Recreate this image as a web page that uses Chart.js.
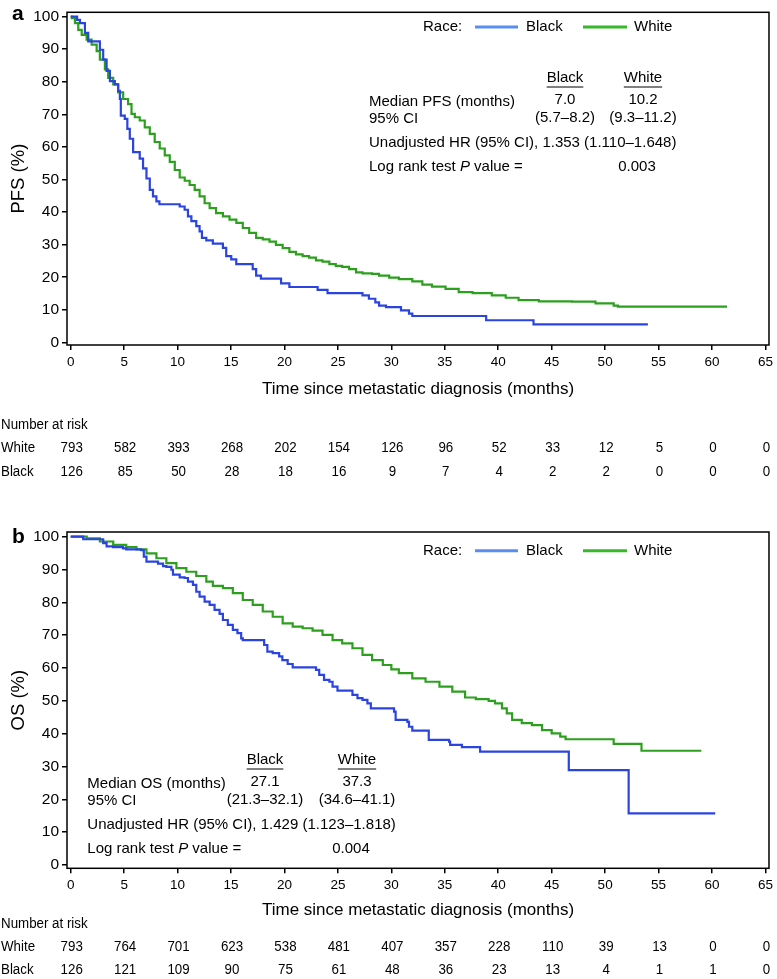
<!DOCTYPE html>
<html>
<head>
<meta charset="utf-8">
<script src="https://cdn.jsdelivr.net/npm/chart.js@4.4.1/dist/chart.umd.min.js"></script>
<style>
html, body { margin: 0; padding: 0; background: #fff; }
#wrap { position: relative; width: 777px; height: 979px; }
canvas { position: absolute; left: 0; }
</style>
</head>
<body>
<div id="wrap">
  <canvas id="pfs" width="777" height="490" style="top:0;"></canvas>
  <canvas id="os" width="777" height="489" style="top:490px;"></canvas>
</div>
<script>
"use strict";

// axis ticks
var X_TICKS = [0, 5, 10, 15, 20, 25, 30, 35, 40, 45, 50, 55, 60, 65];
var Y_TICKS = [0, 10, 20, 30, 40, 50, 60, 70, 80, 90, 100];

// panel a: PFS (months, % surviving)
var PFS_BLACK_T = [0, 0.6, 0.87, 1.33, 1.64, 2.73, 3.04, 3.36, 3.67, 4.13, 4.44, 4.6, 4.69, 5.06, 5.3, 5.53, 5.84, 6.46, 6.77, 7.09, 7.4, 7.7, 8.02, 8.3, 10.2, 10.66, 10.97, 11.29, 11.75, 12.06, 12.28, 12.69, 13.3, 14.24, 14.55, 15.02, 15.49, 17.03, 17.35, 17.8, 19.68, 20.46, 23.1, 24.03, 27.3, 27.9, 28.5, 28.85, 29.5, 30.9, 31.65, 31.96, 38.87, 43.3, 54.0];
var PFS_BLACK_S = [100, 99, 98, 95, 92.4, 89.8, 86.8, 83.3, 80.2, 79.2, 77.2, 74.7, 69.6, 68.6, 65.5, 62.5, 58.4, 56.4, 53.4, 50.3, 46.8, 44.8, 43.3, 42.4, 41.7, 40.7, 38.7, 37.2, 35.7, 34.1, 32.1, 31.3, 30.3, 29, 26.5, 25.5, 24, 22.5, 20.5, 19.6, 18.1, 17, 16.1, 15.1, 14.4, 13.4, 12.3, 11.3, 10.8, 9.8, 8.8, 8.1, 6.8, 5.5, 5.5];
var PFS_WHITE_T = [0, 0.1, 0.4, 0.71, 1.03, 1.49, 1.96, 2.43, 2.73, 3.2, 3.51, 3.98, 4.44, 4.91, 5.37, 5.69, 6.0, 6.46, 6.93, 7.4, 7.86, 8.33, 8.8, 9.27, 9.74, 10.2, 10.67, 11.13, 11.6, 12.06, 12.53, 13.0, 13.6, 14.24, 14.86, 15.5, 16.1, 16.7, 17.35, 17.97, 18.6, 19.2, 19.83, 20.46, 21.08, 21.7, 22.3, 22.95, 23.56, 24.2, 24.8, 25.4, 26.05, 26.7, 27.3, 28.2, 28.85, 29.8, 30.7, 31.96, 32.9, 33.8, 35.07, 36.3, 37.6, 39.4, 40.7, 41.9, 43.8, 46.9, 49.1, 50.8, 51.2, 61.4];
var PFS_WHITE_S = [100, 99.5, 98, 95.9, 94.4, 92.9, 91.4, 89.4, 86.8, 83.8, 81.2, 79.2, 76.7, 74.7, 73.1, 70.1, 69.1, 68.1, 66, 64, 61.5, 59.5, 57.4, 55.4, 52.9, 50.6, 49.6, 48.3, 46.8, 44.8, 42.7, 41.2, 39.7, 38.7, 37.7, 36.7, 35.1, 33.6, 32.1, 31.6, 30.9, 29.9, 28.9, 27.8, 27, 26.5, 26, 25.2, 24.8, 24, 23.5, 23.2, 22.5, 21.5, 21.2, 21, 20.5, 19.9, 19.4, 18.7, 17.7, 17.1, 16.4, 15.4, 15.1, 14.4, 13.7, 13, 12.6, 12.5, 12, 11.3, 11, 11];

// panel b: OS
var OS_BLACK_T = [0, 1.17, 3.04, 3.36, 3.97, 4.9, 5.2, 6.6, 6.84, 7.09, 8.17, 8.64, 8.95, 9.42, 9.57, 10.2, 10.66, 10.97, 11.44, 11.75, 12.06, 12.53, 13.0, 13.46, 13.93, 14.24, 14.7, 15.17, 15.6, 15.95, 16.1, 18.1, 18.4, 18.9, 19.5, 19.8, 20.3, 20.77, 22.95, 23.25, 23.7, 24.2, 24.5, 24.96, 26.36, 26.83, 27.3, 27.76, 28.08, 30.25, 30.4, 31.5, 31.65, 31.96, 33.5, 35.4, 35.5, 36.6, 38.3, 46.6, 52.2, 60.3];
var OS_BLACK_S = [100, 99.2, 98, 97, 96.8, 96.4, 96.1, 95.9, 93.9, 92.4, 91.8, 91, 90.8, 89.9, 88.4, 87.6, 87.4, 86.3, 85.3, 83.2, 81.7, 80.2, 79.2, 77.7, 76.5, 74.6, 73.1, 71.6, 70.6, 69, 68.5, 67, 65, 64.5, 63.5, 62.4, 61.2, 60.2, 59.4, 57.9, 56.4, 55.8, 54.3, 53.1, 51.8, 50.8, 50.3, 49.2, 47.7, 46.7, 44.2, 43.6, 42.1, 40.9, 38.1, 37.6, 36.6, 35.9, 34.5, 28.9, 15.7, 15.7];
var OS_WHITE_T = [0, 1.5, 2.73, 3.98, 5.2, 6.16, 7.09, 8.02, 8.95, 9.89, 10.82, 11.75, 12.69, 13.3, 14.24, 15.17, 16.1, 17.03, 17.97, 18.9, 19.83, 20.77, 21.7, 22.63, 23.56, 24.5, 25.4, 26.36, 27.3, 28.2, 29.2, 30.0, 30.7, 31.96, 33.2, 34.5, 35.7, 36.9, 37.9, 39.1, 39.7, 40.35, 40.8, 41.3, 42.2, 43.15, 44.1, 45.0, 45.8, 46.3, 50.8, 53.4, 59.0];
var OS_WHITE_S = [100, 99.5, 98.5, 97.5, 96.8, 96.1, 94.9, 93.4, 91.9, 90.4, 89.3, 88, 86.3, 85, 84.3, 82.8, 80.7, 79.2, 77.2, 75.6, 73.6, 72.6, 72.1, 71.4, 70.1, 68.5, 67.5, 66, 64, 62.4, 60.9, 59.6, 58.4, 56.8, 55.8, 54.3, 52.8, 51, 50.5, 50, 49.2, 47.7, 46.2, 44.2, 43.2, 42.6, 41.1, 40.1, 39.1, 38.3, 36.9, 34.8, 34.8];

// number at risk, at each x tick
var PFS_RISK_WHITE = [793, 582, 393, 268, 202, 154, 126, 96, 52, 33, 12, 5, 0, 0];
var PFS_RISK_BLACK = [126, 85, 50, 28, 18, 16, 9, 7, 4, 2, 2, 0, 0, 0];
var OS_RISK_WHITE = [793, 764, 701, 623, 538, 481, 407, 357, 228, 110, 39, 13, 0, 0];
var OS_RISK_BLACK = [126, 121, 109, 90, 75, 61, 48, 36, 23, 13, 4, 1, 1, 0];

// summary statistics
var PFS_MEDIAN = ["7.0", "10.2"];
var PFS_CI = ["(5.7\u20138.2)", "(9.3\u201311.2)"];
var PFS_HR = "Unadjusted HR (95% CI), 1.353 (1.110\u20131.648)";
var PFS_P = "0.003";
var OS_MEDIAN = ["27.1", "37.3"];
var OS_CI = ["(21.3\u201332.1)", "(34.6\u201341.1)"];
var OS_HR = "Unadjusted HR (95% CI), 1.429 (1.123\u20131.818)";
var OS_P = "0.004";

var BLUE = "#2b44e0";
var GREEN = "#2ca01e";
var BLUE_KEY = "#5a8df0";
var GREEN_KEY = "#36b82a";
var SANS = '"Liberation Sans", Arial, Helvetica, sans-serif';

function _pts(ts, ss) {
  return ts.map(function(t, i) { return { x: t, y: ss[i] }; });
}

// narrow-looking text: no condensed face installed, so squeeze horizontally
function _narrow(ctx, txt, x, y, align) {
  var sq = 0.86;
  ctx.save();
  ctx.translate(x, y);
  ctx.scale(sq, 1);
  ctx.textAlign = align;
  ctx.fillText(txt, 0, 0);
  ctx.restore();
}

function _decor(p) {
  return {
    id: "kmDecor",
    afterDraw: function(chart) {
      var ctx = chart.ctx, a = chart.chartArea, xs = chart.scales.x;
      ctx.save();
      ctx.strokeStyle = "#000";
      ctx.lineWidth = 1.5;
      ctx.strokeRect(a.left, a.top, a.right - a.left, a.bottom - a.top);

      ctx.fillStyle = "#000";
      ctx.font = "bold 21px " + SANS;
      ctx.textAlign = "left";
      ctx.textBaseline = "alphabetic";
      ctx.fillText(p.letter, 12, p.letterY);

      // legend
      ctx.font = "15px " + SANS;
      ctx.textBaseline = "middle";
      ctx.fillText("Race:", 423, p.legendY);
      ctx.fillText("Black", 526, p.legendY);
      ctx.fillText("White", 634, p.legendY);
      ctx.lineWidth = 3;
      ctx.strokeStyle = BLUE_KEY;
      ctx.beginPath(); ctx.moveTo(475, p.legendY); ctx.lineTo(518, p.legendY); ctx.stroke();
      ctx.strokeStyle = GREEN_KEY;
      ctx.beginPath(); ctx.moveTo(583, p.legendY); ctx.lineTo(627, p.legendY); ctx.stroke();

      // stats block
      var sx = p.statX, y0 = p.statY, c = p.cols;
      ctx.strokeStyle = "#000";
      ctx.lineWidth = 1;
      ctx.textAlign = "center";
      ["Black", "White"].forEach(function(h, i) {
        ctx.fillText(h, c[i], y0);
        var w = ctx.measureText(h).width;
        ctx.beginPath(); ctx.moveTo(c[i] - w / 2, y0 + 9); ctx.lineTo(c[i] + w / 2, y0 + 9); ctx.stroke();
        ctx.fillText(p.median[i], c[i], y0 + 21.5);
        ctx.fillText(p.ci[i], c[i], y0 + 39.5);
      });
      ctx.fillText(p.pval, c[1] - 6, y0 + 88.5);
      ctx.textAlign = "left";
      ctx.fillText(p.medianLabel, sx, y0 + 23.5);
      ctx.fillText("95% CI", sx, y0 + 41);
      ctx.fillText(p.hr, sx, y0 + 65);
      var s1 = "Log rank test ";
      ctx.fillText(s1, sx, y0 + 88.5);
      var x1 = sx + ctx.measureText(s1).width;
      ctx.font = "italic 15px " + SANS;
      ctx.fillText("P", x1, y0 + 88.5);
      x1 += ctx.measureText("P").width;
      ctx.font = "15px " + SANS;
      ctx.fillText(" value =", x1, y0 + 88.5);

      // number at risk table
      ctx.font = "15.5px " + SANS;
      _narrow(ctx, "Number at risk", 1, p.riskY[0], "left");
      _narrow(ctx, "White", 1, p.riskY[1], "left");
      _narrow(ctx, "Black", 1, p.riskY[2], "left");
      X_TICKS.forEach(function(t, i) {
        var x = xs.getPixelForValue(t) + 1;
        _narrow(ctx, String(p.riskWhite[i]), x, p.riskY[1], "center");
        _narrow(ctx, String(p.riskBlack[i]), x, p.riskY[2], "center");
      });
      ctx.restore();
    }
  };
}

function _kmPanel(id, p) {
  var line = function(label, data, color) {
    return { label: label, data: data, borderColor: color, borderWidth: 2.2, stepped: true,
             pointRadius: 0, fill: false, tension: 0 };
  };
  new Chart(document.getElementById(id), {
    type: "line",
    data: { datasets: [
      line("Black", _pts(p.blackT, p.blackS), BLUE),
      line("White", _pts(p.whiteT, p.whiteS), GREEN)
    ] },
    options: {
      responsive: false,
      animation: false,
      devicePixelRatio: 1,
      layout: { padding: p.padding },
      plugins: { legend: { display: false }, tooltip: { enabled: false } },
      scales: {
        x: {
          type: "linear", min: -0.345, max: 65.33,
          afterBuildTicks: function(s) { s.ticks = X_TICKS.map(function(v) { return { value: v }; }); },
          afterFit: function(s) { s.height = p.xHeight; },
          grid: { display: true, drawOnChartArea: false, drawTicks: true, tickLength: 5, color: "#000", lineWidth: 1.5 },
          border: { display: false },
          ticks: { padding: 4, color: "#000", autoSkip: false, maxRotation: 0, font: { family: SANS, size: 13.5 } },
          title: { display: true, text: "Time since metastatic diagnosis (months)", color: "#000",
                   padding: 0, font: { family: SANS, size: 17 } }
        },
        y: {
          type: "linear", min: p.yMin, max: p.yMax,
          afterBuildTicks: function(s) { s.ticks = Y_TICKS.map(function(v) { return { value: v }; }); },
          afterFit: function(s) { s.width = 67; },
          grid: { display: true, drawOnChartArea: false, drawTicks: true, tickLength: 5, color: "#000", lineWidth: 1.5 },
          border: { display: false },
          ticks: { padding: 3, color: "#000", font: { family: SANS, size: 15.5 } },
          title: { display: true, text: p.yTitle, color: "#000",
                   padding: { top: 8, bottom: 0 }, font: { family: SANS, size: 18.5 } }
        }
      }
    },
    plugins: [_decor(p)]
  });
}

_kmPanel("pfs", {
  blackT: PFS_BLACK_T, blackS: PFS_BLACK_S, whiteT: PFS_WHITE_T, whiteS: PFS_WHITE_S,
  riskWhite: PFS_RISK_WHITE, riskBlack: PFS_RISK_BLACK,
  median: PFS_MEDIAN, ci: PFS_CI, hr: PFS_HR, pval: PFS_P, medianLabel: "Median PFS (months)",
  yTitle: "PFS (%)", yMin: -0.8, yMax: 101.3,
  padding: { left: 0, right: 6, top: 9, bottom: 90.5 }, xHeight: 54.5,
  letter: "a", letterY: 19.5, legendY: 27,
  statX: 369, statY: 78, cols: [565, 643],
  riskY: [425, 448, 472]
});

_kmPanel("os", {
  blackT: OS_BLACK_T, blackS: OS_BLACK_S, whiteT: OS_WHITE_T, whiteS: OS_WHITE_S,
  riskWhite: OS_RISK_WHITE, riskBlack: OS_RISK_BLACK,
  median: OS_MEDIAN, ci: OS_CI, hr: OS_HR, pval: OS_P, medianLabel: "Median OS (months)",
  yTitle: "OS (%)", yMin: -1.0, yMax: 101.4,
  padding: { left: 0, right: 6, top: 42, bottom: 58.5 }, xHeight: 52.2,
  letter: "b", letterY: 53.3, legendY: 60.7,
  statX: 87.3, statY: 270, cols: [265, 357],
  riskY: [434, 456.7, 480]
});
</script>
</body>
</html>
